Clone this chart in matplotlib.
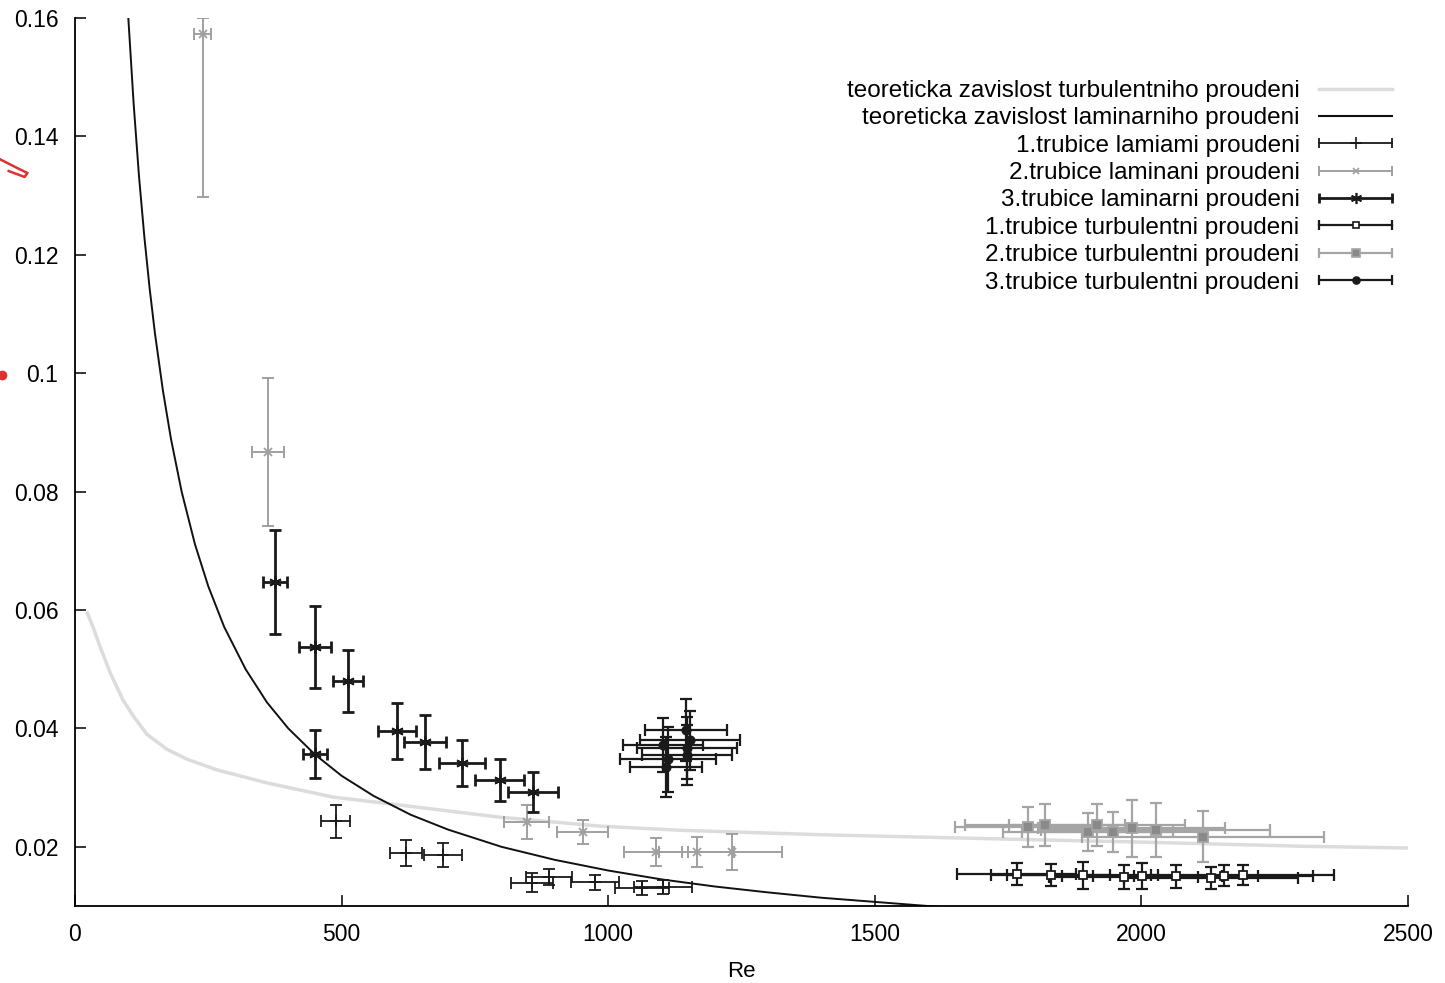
import matplotlib
matplotlib.use('Agg')
import matplotlib.pyplot as plt
from matplotlib.lines import Line2D
from matplotlib.legend_handler import HandlerBase

plt.rcParams['font.family'] = ['Liberation Sans', 'DejaVu Sans']
plt.rcParams['font.size'] = 16

# teoreticke krivky
re_tur_th = [23, 34, 47, 66, 90, 110, 135, 172, 210, 266, 360, 484, 578, 797, 984, 1134, 1416,
             1800, 2000, 2300, 2500]
f_tur_th = [0.0595, 0.0571, 0.0538, 0.0494, 0.0448, 0.0420, 0.0390, 0.0365, 0.0348, 0.0330,
            0.0308, 0.0284, 0.0274, 0.0250, 0.0235, 0.0228, 0.0220, 0.0212, 0.0208, 0.0201,
            0.0198]
re_lam_th = [100, 110, 120, 130, 140, 150, 165, 180, 200, 225, 250, 280, 320, 360, 400, 450, 500,
             560, 630, 700, 800, 900, 1000, 1100, 1200, 1300, 1400, 1500, 1600, 1700]
f_lam_th = [0.1600, 0.1455, 0.1333, 0.1231, 0.1143, 0.1067, 0.0970, 0.0889, 0.0800, 0.0711,
            0.0640, 0.0571, 0.0500, 0.0444, 0.0400, 0.0356, 0.0320, 0.0286, 0.0254, 0.0229,
            0.0200, 0.0178, 0.0160, 0.0145, 0.0133, 0.0123, 0.0114, 0.0107, 0.0100, 0.0094]

# 1.trubice laminarni
re_l1 = [489, 621, 690, 857, 889, 975, 1063, 1103]
f_l1 = [0.0243, 0.0189, 0.0186, 0.0139, 0.0149, 0.0140, 0.0130, 0.0132]
xe_l1 = [27, 30, 35, 40, 44, 45, 51, 55]
ye_l1 = [0.0028, 0.0022, 0.0020, 0.0016, 0.0014, 0.0013, 0.0012, 0.0012]

# 2.trubice laminarni
re_l2 = [240, 362, 847, 952, 1089, 1166, 1232]
f_l2 = [0.1573, 0.0867, 0.0242, 0.0225, 0.0191, 0.0191, 0.0191]
xe_l2 = [16, 30, 42, 48, 60, 70, 94]
ye_l2_lo = [0.0275, 0.0125, 0.0029, 0.0021, 0.0024, 0.0025, 0.0030]
ye_l2_hi = [0.0027, 0.0125, 0.0029, 0.0021, 0.0024, 0.0025, 0.0030]

# 3.trubice laminarni
re_l3 = [375, 450, 512, 450, 604, 656, 726, 797, 859]
f_l3 = [0.0647, 0.0538, 0.0480, 0.0357, 0.0396, 0.0377, 0.0342, 0.0313, 0.0293]
xe_l3 = [22, 30, 29, 22, 36, 39, 43, 46, 47]
ye_l3 = [0.0088, 0.0069, 0.0053, 0.0040, 0.0047, 0.0045, 0.0039, 0.0036, 0.0034]

# 1.trubice turbulentni
re_t1 = [1766, 1830, 1890, 1967, 2002, 2064, 2130, 2154, 2190]
f_t1 = [0.0154, 0.0152, 0.0152, 0.0149, 0.0151, 0.0150, 0.0147, 0.0151, 0.0152]
xe_t1 = [112, 112, 142, 140, 150, 155, 163, 167, 172]
ye_t1 = [0.0019, 0.0019, 0.0023, 0.0020, 0.0022, 0.0020, 0.0019, 0.0018, 0.0017]

# 2.trubice turbulentni
re_t2 = [1787, 1819, 1900, 1916, 1946, 1982, 2027, 2115]
f_t2 = [0.0233, 0.0237, 0.0225, 0.0237, 0.0225, 0.0231, 0.0228, 0.0217]
xe_t2 = [137, 150, 160, 165, 170, 175, 215, 227]
ye_t2 = [0.0034, 0.0036, 0.0032, 0.0036, 0.0033, 0.0048, 0.0046, 0.0043]

# 3.trubice turbulentni
re_t3 = [1146, 1103, 1153, 1148, 1112, 1108, 1148]
f_t3 = [0.0397, 0.0372, 0.0380, 0.0367, 0.0348, 0.0335, 0.0355]
xe_t3 = [77, 75, 94, 94, 90, 68, 85]
ye_t3 = [0.0052, 0.0046, 0.0050, 0.0052, 0.0055, 0.0050, 0.0050]

labels = ['teoreticka zavislost turbulentniho proudeni',
          'teoreticka zavislost laminarniho proudeni',
          '1.trubice lamiami proudeni',
          '2.trubice laminani proudeni',
          '3.trubice laminarni proudeni',
          '1.trubice turbulentni proudeni',
          '2.trubice turbulentni proudeni',
          '3.trubice turbulentni proudeni']


class GnuErrHandler(HandlerBase):
    # vzorek v legende jako v gnuplotu: cara s koncovymi zarazkami a znacka uprostred
    def create_artists(self, legend, orig_handle, xdescent, ydescent, width, height, fontsize, trans):
        y = height / 2 - ydescent
        x0, x1 = -xdescent, width - xdescent
        col = orig_handle.get_color()
        lw = orig_handle.get_linewidth()
        bar = Line2D([x0, x1], [y, y], color=col, lw=lw, marker='|', markersize=7,
                     markeredgewidth=lw)
        mid = Line2D([(x0 + x1) / 2], [y], ls='', marker=orig_handle.get_marker(),
                     markersize=orig_handle.get_markersize(),
                     markerfacecolor=orig_handle.get_markerfacecolor(),
                     markeredgecolor=col, markeredgewidth=1.2)
        bar.set_transform(trans)
        mid.set_transform(trans)
        return [bar, mid]


fig = plt.figure(figsize=(14.45, 9.83), dpi=100)
ax = fig.add_axes([0.0519, 0.0783, 0.9225, 0.9034])

ax.plot(re_tur_th, f_tur_th, color='#dcdcdc', lw=2.5, zorder=1)
ax.plot(re_lam_th, f_lam_th, color='#111111', lw=1.4, zorder=2)

styles = [
    # x, y, xerr, yerr, color, marker, mfc, lw, ms
    (re_l1, f_l1, xe_l1, ye_l1, '#1a1a1a', '+', 'none', 1.3, 9),
    (re_l2, f_l2, xe_l2, [ye_l2_lo, ye_l2_hi], '#a0a0a0', 'x', 'none', 1.4, 6),
    (re_l3, f_l3, xe_l3, ye_l3, '#1a1a1a', (6, 2, 0), 'none', 2.0, 9),
    (re_t1, f_t1, xe_t1, ye_t1, '#1a1a1a', 's', 'white', 1.6, 6),
    (re_t2, f_t2, xe_t2, ye_t2, '#a5a5a5', 's', '#8a8a8a', 1.6, 7),
    (re_t3, f_t3, xe_t3, ye_t3, '#1a1a1a', 'o', '#1a1a1a', 1.6, 6),
]

handles = [Line2D([], [], color='#dcdcdc', lw=2.5),
           Line2D([], [], color='#111111', lw=1.5)]
for x, y, xe, ye, col, mk, mfc, lw, ms in styles:
    ax.errorbar(x, y, xerr=xe, yerr=ye, fmt='none', ecolor=col, elinewidth=lw,
                capsize=4, capthick=lw, zorder=3)
    ax.plot(x, y, ls='', marker=mk, ms=ms, mfc=mfc, mec=col, mew=1.3, zorder=4)
    handles.append(Line2D([], [], color=col, lw=lw, marker=mk, ms=ms - 1, mfc=mfc))

ax.set_xlim(0, 2500)
ax.set_ylim(0.01, 0.16)
ax.set_xticks([0, 500, 1000, 1500, 2000, 2500])
ax.set_yticks([0.02, 0.04, 0.06, 0.08, 0.1, 0.12, 0.14, 0.16])
ax.set_yticklabels(['0.02', '0.04', '0.06', '0.08', '0.1', '0.12', '0.14', '0.16'])
ax.tick_params(direction='in', length=8, width=1.1, pad=12, labelsize=16.5)
for s in ['top', 'right']:
    ax.spines[s].set_visible(False)
for s in ['left', 'bottom']:
    ax.spines[s].set_linewidth(1.3)
ax.set_xlabel('Re', labelpad=11)

ax.legend(handles, labels, loc='upper right', bbox_to_anchor=(0.9633, 0.9186),
          bbox_transform=fig.transFigure, markerfirst=False, frameon=False,
          fontsize=17.5, handlelength=3.0, handletextpad=0.8, labelspacing=0.22,
          borderaxespad=0, borderpad=0,
          handler_map={h: GnuErrHandler() for h in handles[2:]})

# cervene cmaranice na okraji naskenovane stranky
fig.add_artist(Line2D([0.0, 0.012, 0.019, 0.017, 0.006],
                      [0.838, 0.829, 0.824, 0.820, 0.826],
                      color='#e03030', lw=1.8, transform=fig.transFigure))
fig.add_artist(Line2D([0.0015], [0.619], ls='', marker='o', ms=6, color='#e03030',
                      transform=fig.transFigure))

fig.savefig('out.png', dpi=100)
